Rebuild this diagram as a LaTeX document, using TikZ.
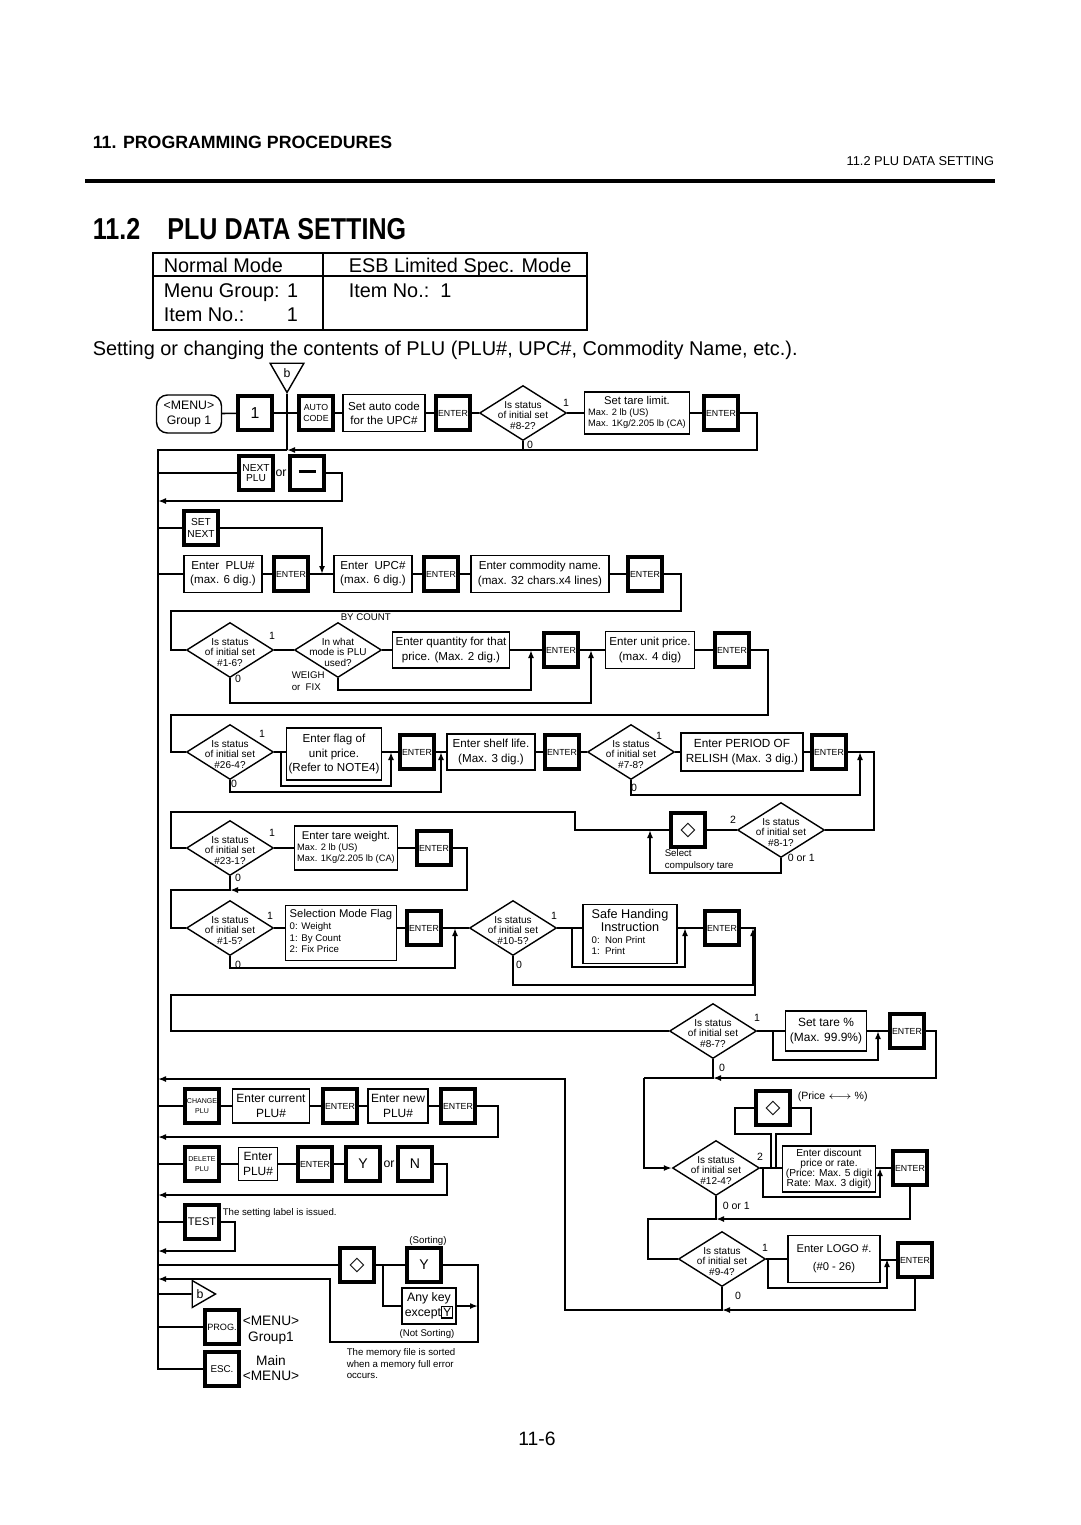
\documentclass[tikz,border=0pt]{standalone}
\usepackage{fontspec}
\setmainfont{Liberation Sans}
\newfontfamily\condfont[FakeStretch=0.83]{Liberation Sans}
\newfontfamily\symfont{DejaVu Sans}
\usetikzlibrary{positioning, shapes.geometric, arrows.meta, calc}

\begin{document}
\begin{tikzpicture}[
    x=0.02cm, y=-0.02cm,
    >=Latex,
    line width=0.9pt,
    arrow/.style={
        -{Latex[length=1.6mm,width=1.2mm]},
        line width=0.9pt
    },
    key/.style={
        rectangle,
        draw,
        line width=2.2pt,
        minimum width=0.68cm,
        minimum height=0.68cm,
        inner sep=0pt,
        align=center,
        font=\fontsize{5}{6}\selectfont
    },
    box/.style={
        rectangle,
        draw,
        line width=0.8pt,
        inner sep=0pt,
        align=center,
        font=\fontsize{6.6}{8}\selectfont
    },
    term/.style={
        rectangle,
        draw,
        line width=0.8pt,
        rounded corners=2.2mm,
        minimum width=1.3cm,
        minimum height=0.76cm,
        inner sep=0pt,
        align=center,
        font=\fontsize{7}{8.5}\selectfont
    },
    decide/.style={
        diamond,
        draw,
        line width=0.8pt,
        minimum width=1.74cm,
        minimum height=1.1cm,
        inner sep=0pt,
        label={[dtext]center:#1}
    },
    dtext/.style={
        align=center,
        inner sep=0pt,
        yshift=-0.045cm,
        font=\fontsize{5.7}{6}\selectfont
    },
    tri/.style={
        regular polygon,
        regular polygon sides=3,
        draw,
        line width=0.8pt,
        inner sep=0pt,
        font=\fontsize{7}{8}\selectfont
    },
    lbl/.style={
        inner sep=0pt,
        font=\fontsize{6}{7}\selectfont
    },
    note/.style={
        inner sep=0pt,
        align=left,
        font=\fontsize{5.5}{6.5}\selectfont
    },
    symkey/.style={
        key,
        font=\symfont\bfseries\fontsize{11}{11}\selectfont
    },
    big/.style={
        inner sep=0pt,
        font=\fontsize{11.3}{13}\selectfont
    }
]
\useasboundingbox (0,0) rectangle (1080,1525);

% page header
\node[anchor=base west, inner sep=0pt, font=\bfseries\fontsize{10.1}{12}\selectfont] (chap) at (92,148) {11. PROGRAMMING PROCEDURES};
\node[anchor=base east, inner sep=0pt, font=\fontsize{7.3}{9}\selectfont] (sect) at (995,165) {11.2 PLU DATA SETTING};
\draw[line width=2.4pt] (85,181) -- (995,181);
\node[anchor=base west, inner sep=0pt, font=\condfont\bfseries\fontsize{17.2}{20}\selectfont] (title) at (92,239) {11.2\hspace{0.9em}PLU DATA SETTING};

% mode table
\draw[line width=0.7pt] (153,253) rectangle (587,330);
\draw[line width=0.7pt] (153,276) -- (587,276) (323,253) -- (323,330);
\node[big, anchor=base west] (tnorm) at (163,272) {Normal Mode};
\node[big, anchor=base west] (tesb) at (348,272) {ESB Limited Spec. Mode};
\node[big, anchor=base west] (tgrp) at (163,297) {Menu Group: 1};
\node[big, anchor=base west] (titem) at (348,297) {Item No.:\ \ 1};
\node[big, anchor=base west] (titem2) at (163,321) {Item No.:};
\node[big, anchor=base west] (titem3) at (286,321) {1};
\node[big, anchor=base west, font=\fontsize{11.35}{13}\selectfont] (intro) at (92,355) {Setting or changing the contents of PLU (PLU\#, UPC\#, Commodity Name, etc.).};

% first row
\node[term] (menu) at (189,414) {<MENU>\\Group 1};
\node[key, font=\fontsize{9}{10}\selectfont] (kone) at (255,413) {1};
\node[tri, shape border rotate=180, minimum size=0.78cm] (btop) at (287,373) {b};
\node[key] (kauto) at (316,413) {AUTO\\CODE};
\node[box, minimum width=1.64cm, minimum height=0.74cm] (bauto) at (384,413) {Set auto code\\for the UPC\#};
\node[key] (ke1) at (453,413) {ENTER};
\node[decide={Is status\\of initial set\\\#8-2?}] (s82) at (523,413) {};
\node[box, minimum width=2.1cm, minimum height=0.84cm, font=\fontsize{5.3}{6.2}\selectfont] (btare) at (637,413) {\begin{tabular}{@{}l@{}}\multicolumn{1}{@{}c@{}}{\fontsize{6.4}{7}\selectfont Set tare limit.}\\Max. 2 lb (US)\\Max. 1Kg/2.205 lb (CA)\end{tabular}};
\node[key] (ke2) at (721,413) {ENTER};
\node[lbl] (l82a) at (566,403) {1};
\node[lbl] (l82b) at (530,445) {0};

\draw (menu) -- (kone) -- (kauto) -- (bauto) -- (ke1) -- (s82) -- (btare) -- (ke2);
\draw (btop) -- (287,450);
\draw[arrow] (ke2.east) -- ++(17,0) |- (287,450);
\draw (s82.south) -- ++(0,10);
\coordinate (trunk) at (158,450);

% next plu
\node[key, font=\fontsize{5.8}{6.2}\selectfont] (knext) at (256,473) {NEXT\\PLU};
\node[lbl, font=\fontsize{7}{8}\selectfont] (or1) at (281,473) {or};
\node[key] (kminus) at (307,473) {\rule[1.6pt]{0.34cm}{1.4pt}};
\draw (trunk |- knext) -- (knext);
\draw[arrow] (kminus.east) -- ++(16,0) |- (158,501);

% set next
\node[key, font=\fontsize{5.8}{6.6}\selectfont] (kset) at (201,528) {SET\\NEXT};
\draw (trunk |- kset) -- (kset);
\draw[arrow] (kset.east) -| (322,574);

% plu, upc, name
\node[box, minimum width=1.56cm, minimum height=0.74cm] (bplu) at (223,574) {Enter\ \ PLU\#\\(max. 6 dig.)};
\node[key] (ke3) at (291,574) {ENTER};
\node[box, minimum width=1.56cm, minimum height=0.74cm] (bupc) at (373,574) {Enter\ \ UPC\#\\(max. 6 dig.)};
\node[key] (ke4) at (441,574) {ENTER};
\node[box, minimum width=2.76cm, minimum height=0.74cm] (bname) at (540,574) {Enter commodity name.\\(max. 32 chars.x4 lines)};
\node[key] (ke5) at (645,574) {ENTER};
\draw (trunk |- bplu) -- (bplu) -- (ke3) -- (bupc) -- (ke4) -- (bname) -- (ke5);

% status 1-6, price mode
\node[decide={Is status\\of initial set\\\#1-6?}] (s16) at (230,650) {};
\node[decide={In what\\mode is PLU\\used?}] (smode) at (338,650) {};
\node[lbl, font=\fontsize{5.5}{6}\selectfont, anchor=west] (bycount) at (340,617) {BY COUNT};
\node[box, minimum width=2.34cm, minimum height=0.72cm] (bqty) at (451,650) {Enter quantity for that\\price. (Max. 2 dig.)};
\node[key] (ke6) at (561,650) {ENTER};
\node[box, minimum width=1.78cm, minimum height=0.74cm] (bunit) at (650,650) {Enter unit price.\\(max. 4 dig)};
\node[key] (ke7) at (732,650) {ENTER};
\node[lbl] (l16a) at (272,636) {1};
\node[lbl] (l16b) at (238,679) {0};
\node[note, anchor=west] (weigh) at (291,681) {WEIGH\\or\ \ FIX};
\draw (ke5.east) -- ++(17,0) |- (171,611) |- (s16.west);
\draw (s16) -- (smode) -- (bqty) -- (ke6) -- (bunit) -- (ke7);
\draw[arrow] (smode.south) |- (531,690) -- (531,650);
\draw[arrow] (s16.south) |- (591,703) -- (591,650);

% status 26-4, shelf life, 7-8
\node[decide={Is status\\of initial set\\\#26-4?}] (s26) at (230,752) {};
\node[box, minimum width=1.9cm, minimum height=1.04cm, font=\fontsize{6.6}{8.3}\selectfont] (bflag) at (334,754) {Enter flag of\\unit price.\\(Refer to NOTE4)};
\node[key] (ke8) at (417,752) {ENTER};
\node[box, minimum width=1.76cm, minimum height=0.72cm, font=\fontsize{6.6}{8.3}\selectfont] (bshelf) at (491,752) {Enter shelf life.\\(Max. 3 dig.)};
\node[key] (ke9) at (562,752) {ENTER};
\node[decide={Is status\\of initial set\\\#7-8?}] (s78) at (631,752) {};
\node[box, minimum width=2.44cm, minimum height=0.76cm, font=\fontsize{6.7}{8.3}\selectfont] (bperiod) at (742,752) {Enter PERIOD OF\\RELISH (Max. 3 dig.)};
\node[key] (ke10) at (829,752) {ENTER};
\node[lbl] (l26a) at (262,734) {1};
\node[lbl] (l26b) at (234,784) {0};
\node[lbl] (l78a) at (659,736) {1};
\node[lbl] (l78b) at (634,788) {0};
\draw (ke7.east) -- ++(17,0) |- (171,715) |- (s26.west);
\draw (s26.east) -- (s26.east -| bflag.west);
\draw (bflag.east |- ke8) -- (ke8) -- (bshelf) -- (ke9) -- (s78) -- (bperiod) -- (ke10);
\draw[arrow] (281,752) |- (391,786) -- (391,752);
\draw[arrow] (s26.south) |- (441,792) -- (441,752);
\draw[arrow] (s78.south) |- (860,795) -- (860,752);

% status 8-1, compulsory tare
\node[decide={Is status\\of initial set\\\#8-1?}] (s81) at (781,830) {};
\node[symkey] (kdia1) at (688,830) {◇};
\node[note, anchor=west] (selnote) at (664,860) {Select\\compulsory tare};
\node[lbl] (l81a) at (733,820) {2};
\node[lbl, anchor=west] (l81b) at (787,858) {0 or 1};
\draw (ke10.east) -- ++(26,0) |- (s81.east);
\draw (s81) -- (kdia1);
\draw[arrow] (s81.south) |- (650,873) -- (650,830);

% status 23-1, tare weight
\node[decide={Is status\\of initial set\\\#23-1?}] (s231) at (230,848) {};
\node[box, minimum width=2.06cm, minimum height=0.88cm, font=\fontsize{5.3}{6.2}\selectfont] (btw) at (346,848) {\begin{tabular}{@{}l@{}}\multicolumn{1}{@{}c@{}}{\fontsize{6.4}{7}\selectfont Enter tare weight.}\\Max. 2 lb (US)\\Max. 1Kg/2.205 lb (CA)\end{tabular}};
\node[key] (ke11) at (434,848) {ENTER};
\node[lbl] (l231a) at (272,833) {1};
\node[lbl] (l231b) at (238,878) {0};
\draw (kdia1.west) -- (575,830) |- (171,812) |- (s231.west);
\draw (s231) -- (btw) -- (ke11);
\draw[arrow] (ke11.east) -- ++(14,0) |- (230,890);

% status 1-5, selection mode, 10-5, safe handling
\node[decide={Is status\\of initial set\\\#1-5?}] (s15) at (230,928) {};
\node[box, minimum width=2.22cm, minimum height=1.1cm, font=\fontsize{5.5}{6.6}\selectfont] (bsel) at (341,933) {\begin{tabular}{@{}l@{}}{\fontsize{6.4}{7}\selectfont Selection Mode Flag}\\0: Weight\\1: By Count\\2: Fix Price\end{tabular}};
\node[key] (ke12) at (424,928) {ENTER};
\node[decide={Is status\\of initial set\\\#10-5?}] (s105) at (513,928) {};
\node[box, minimum width=1.88cm, minimum height=1.18cm, font=\fontsize{5.5}{6.6}\selectfont] (bsafe) at (630,934) {\begin{tabular}{@{}l@{}}\multicolumn{1}{@{}c@{}}{\fontsize{7.2}{8}\selectfont Safe Handing}\\\multicolumn{1}{@{}c@{}}{\fontsize{7.2}{8}\selectfont Instruction}\\0:\ \ Non Print\\1:\ \ Print\end{tabular}};
\node[key] (ke13) at (722,928) {ENTER};
\node[lbl] (l15a) at (270,916) {1};
\node[lbl] (l15b) at (238,965) {0};
\node[lbl] (l105a) at (554,916) {1};
\node[lbl] (l105b) at (519,965) {0};
\draw (s231.south) |- (171,890) |- (s15.west);
\draw (s15.east) -- (s15.east -| bsel.west);
\draw (bsel.east |- ke12) -- (ke12) -- (s105) -- (s105.east -| bsafe.west);
\draw (bsafe.east |- ke13) -- (ke13);
\draw[arrow] (572,928) |- (685,967) -- (685,928);
\draw[arrow] (s15.south) |- (455,968) -- (455,928);
\draw[arrow] (s105.south) |- (753,985) -- (753,928);

% status 8-7, tare percent
\node[decide={Is status\\of initial set\\\#8-7?}] (s87) at (713,1031) {};
\node[box, minimum width=1.62cm, minimum height=0.8cm, font=\fontsize{6.8}{9}\selectfont] (btpct) at (826,1031) {Set tare \%\\(Max. 99.9\%)};
\node[key] (ke14) at (907,1031) {ENTER};
\node[lbl] (l87a) at (757,1018) {1};
\node[lbl] (l87b) at (722,1068) {0};
\draw (ke13.east) -- ++(14,0) |- (171,995) |- (s87.west);
\draw (s87) -- (btpct) -- (ke14);
\draw[arrow] (773,1031) |- (878,1060) -- (878,1031);
\draw[arrow] (ke14.east) -- ++(10,0) |- (713,1078);
\draw (s87.south) -- (713,1078) -- (644,1078);

% status 12-4, discount
\node[decide={Is status\\of initial set\\\#12-4?}] (s124) at (716,1168) {};
\node[symkey] (kdia2) at (773,1108) {◇};
\node[lbl, anchor=west] (pricepct) at (797,1097) {(Price $\longleftrightarrow$ \%)};
\node[box, minimum width=1.86cm, minimum height=0.92cm, font=\fontsize{5.8}{5.7}\selectfont] (bdisc) at (829,1169) {Enter discount\\price or rate.\\(Price: Max. 5 digit\\Rate: Max. 3 digit)};
\node[key] (ke15) at (910,1168) {ENTER};
\node[lbl] (l124a) at (760,1157) {2};
\node[lbl, anchor=west] (l124b) at (722,1206) {0 or 1};
\draw[arrow] (644,1078) |- (s124.west);
\draw (s124.east) -- (s124.east -| bdisc.west);
\draw (bdisc.east |- ke15) -- (ke15);
\draw (771,1168) |- (735,1134) |- (kdia2.west);
\draw (kdia2.east) -- (811,1108) |- (776,1134) -- (776,1168);
\draw[arrow] (763,1168) |- (880,1197) -- (880,1168);
\draw[arrow] (ke15.south) |- (716,1219);

% status 9-4, logo
\node[decide={Is status\\of initial set\\\#9-4?}] (s94) at (722,1259) {};
\node[box, minimum width=1.84cm, minimum height=0.94cm, font=\fontsize{6.4}{10}\selectfont] (blogo) at (834,1259) {Enter LOGO \#.\\(\#0 - 26)};
\node[key] (ke16) at (915,1260) {ENTER};
\node[lbl] (l94a) at (765,1248) {1};
\node[lbl] (l94b) at (738,1296) {0};
\draw (s124.south) |- (648,1219) |- (s94.west);
\draw (s94) -- (blogo);
\draw (blogo.east |- ke16) -- (ke16);
\draw[arrow] (768,1259) |- (887,1288) -- (887,1259);
\draw[arrow] (ke16.south) |- (722,1310);
\draw[arrow] (s94.south) |- (565,1310) |- (158,1079);

% change plu
\node[key, font=\fontsize{4}{5.5}\selectfont] (kchg) at (202,1106) {CHANGE\\PLU};
\node[box, minimum width=1.54cm, minimum height=0.68cm, font=\fontsize{6.8}{8.4}\selectfont] (bcur) at (271,1106) {Enter current\\PLU\#};
\node[key] (ke17) at (340,1106) {ENTER};
\node[box, minimum width=1.2cm, minimum height=0.68cm, font=\fontsize{6.8}{8.4}\selectfont] (bnew) at (398,1106) {Enter new\\PLU\#};
\node[key] (ke18) at (458,1106) {ENTER};
\draw (trunk |- kchg) -- (kchg) -- (bcur) -- (ke17) -- (bnew) -- (ke18);
\draw[arrow] (ke18.east) -- ++(21,0) |- (158,1137);

% delete plu
\node[key, font=\fontsize{4}{5.5}\selectfont] (kdel) at (202,1164) {DELETE\\PLU};
\node[box, minimum width=0.78cm, minimum height=0.66cm, font=\fontsize{6.8}{8.4}\selectfont] (bdel) at (258,1164) {Enter\\PLU\#};
\node[key] (ke19) at (315,1164) {ENTER};
\node[key, font=\fontsize{8}{9}\selectfont] (ky) at (363,1164) {Y};
\node[lbl, font=\fontsize{7}{8}\selectfont] (or2) at (389,1164) {or};
\node[key, font=\fontsize{8}{9}\selectfont] (kn) at (415,1164) {N};
\draw (trunk |- kdel) -- (kdel) -- (bdel) -- (ke19) -- (ky);
\draw[arrow] (kn.east) -- ++(13,0) |- (158,1195);

% test
\node[key, font=\fontsize{6.3}{8}\selectfont] (ktest) at (202,1222) {TEST};
\node[note, anchor=west] (testnote) at (222,1213) {The setting label is issued.};
\draw (trunk |- ktest) -- (ktest);
\draw[arrow] (ktest.east) -- ++(14,0) |- (158,1251);

% memory sort
\node[symkey] (kdia3) at (357,1265) {◇};
\node[key, font=\fontsize{8}{9}\selectfont] (ky2) at (424,1265) {Y};
\node[note, anchor=center] (sortnote) at (428,1241) {(Sorting)};
\node[box, minimum width=1.08cm, minimum height=0.72cm, font=\fontsize{7}{8.5}\selectfont] (bany) at (429,1306) {Any key\\except{\setlength{\fboxsep}{0.4pt}\setlength{\fboxrule}{0.7pt}\fbox{Y}}};
\node[note, anchor=center] (nsortnote) at (427,1334) {(Not Sorting)};
\node[note, anchor=north west] (memnote) at (346,1348) {The memory file is sorted\\when a memory full error\\occurs.};
\draw (trunk |- kdia3) -- (kdia3) -- (ky2);
\draw (383,1265) |- (bany.west);
\draw[arrow] (bany.east) -- (478,1306);
\draw[arrow] (ky2.east) -| (478,1342) -| (330,1279) -- (158,1279);

% back to start, prog, esc
\node[tri, shape border rotate=-90, minimum size=0.62cm] (bbot) at (200,1294) {b};
\node[key, font=\fontsize{5.2}{7}\selectfont] (kprog) at (222,1327) {PROG.};
\node[big, font=\fontsize{7.8}{9}\selectfont, align=center] (progtxt) at (271,1330) {<MENU>\\Group1};
\node[key, font=\fontsize{5.6}{7}\selectfont] (kesc) at (222,1369) {ESC.};
\node[big, font=\fontsize{7.8}{9}\selectfont, align=center] (esctxt) at (271,1368) {Main\\<MENU>};
\draw (trunk |- bbot) -- (bbot);
\draw (trunk |- kprog) -- (kprog);
\draw (287,450) -- (trunk) |- (kesc.west);

% page number
\node[big, font=\fontsize{11}{13}\selectfont] (pnum) at (537,1439) {11-6};

\end{tikzpicture}
\end{document}
